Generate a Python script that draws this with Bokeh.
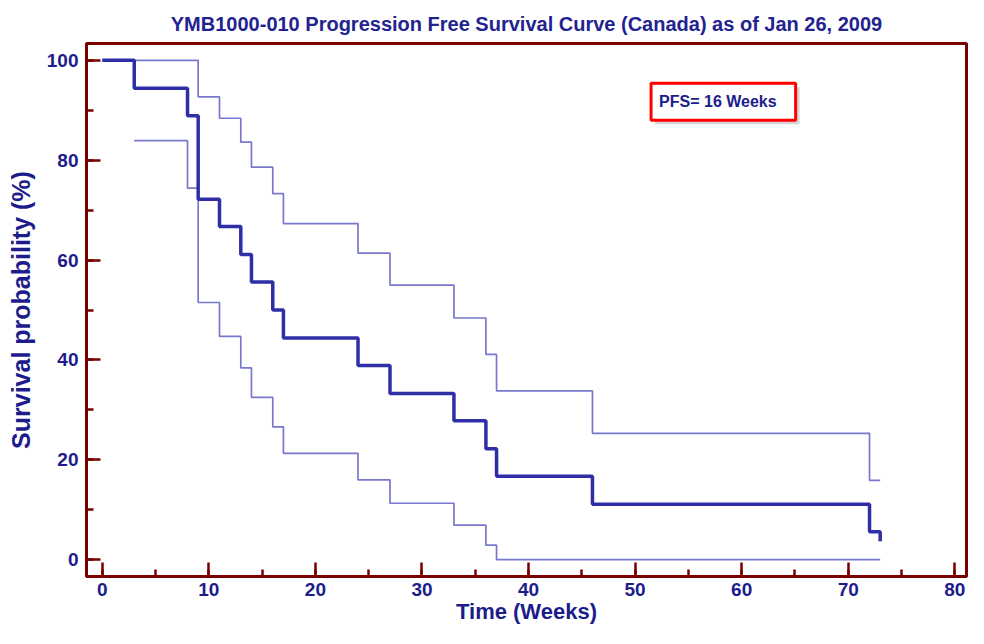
from bokeh.plotting import figure
from bokeh.models import Range1d, SingleIntervalTicker, Label, Title
from bokeh.embed import file_html
from bokeh.resources import INLINE

# Kaplan-Meier estimate (%), step times in weeks
km_time = [0, 3, 8, 9, 11, 13, 14, 16, 17, 24, 27, 33, 36, 37, 46, 72, 73]
km_surv = [100, 94.4, 88.9, 72.2, 66.7, 61.1, 55.6, 50.0, 44.4, 38.9, 33.3, 27.8, 22.2, 16.7, 11.1, 5.6, 3.7]

# Upper confidence limit
up_time = [0, 9, 11, 13, 14, 16, 17, 24, 27, 33, 36, 37, 46, 72, 73]
up_surv = [100, 92.7, 88.4, 83.6, 78.6, 73.3, 67.3, 61.4, 55.0, 48.4, 41.1, 33.8, 25.3, 15.9, 15.9]

# Lower confidence limit
lo_time = [3, 8, 9, 11, 13, 14, 16, 17, 24, 27, 33, 36, 37, 73]
lo_surv = [83.9, 74.4, 51.5, 44.7, 38.4, 32.5, 26.6, 21.3, 16.0, 11.3, 6.9, 2.9, 0.0, 0.0]

title_text = "YMB1000-010 Progression Free Survival Curve (Canada) as of Jan 26, 2009"
x_label = "Time (Weeks)"
y_label = "Survival probability (%)"
pfs_text = "PFS= 16 Weeks"

NAVY = "#1c1c8c"
MAROON = "#7a0000"
FONT = "Liberation Sans"

p = figure(width=968, height=628, output_backend="svg", toolbar_location=None,
           x_range=Range1d(-1.48, 81.1), y_range=Range1d(-3.37, 103.37),
           min_border_left=86, min_border_right=2, min_border_top=43, min_border_bottom=52)
p.title = Title(text=title_text, align="center", text_font=FONT, text_font_size="20px",
                text_font_style="bold", text_color="#23238f", standoff=18)
p.grid.visible = False
p.outline_line_color = MAROON
p.outline_line_width = 3
p.background_fill_color = "white"
p.border_fill_color = "white"

for ax, interval in ((p.xaxis[0], 10), (p.yaxis[0], 20)):
    ax.ticker = SingleIntervalTicker(interval=interval, num_minor_ticks=2)
    ax.axis_line_color = MAROON
    ax.axis_line_width = 3
    ax.major_tick_line_color = MAROON
    ax.minor_tick_line_color = MAROON
    ax.major_tick_line_width = 2.5
    ax.minor_tick_line_width = 2.5
    ax.major_tick_in = 14
    ax.major_tick_out = 0
    ax.minor_tick_in = 7
    ax.minor_tick_out = 0
    ax.major_label_text_font = FONT
    ax.major_label_text_font_size = "19px"
    ax.major_label_text_font_style = "bold"
    ax.major_label_text_color = NAVY
    ax.axis_label_text_font = FONT
    ax.axis_label_text_font_style = "bold"
    ax.axis_label_text_color = NAVY

p.xaxis.axis_label = x_label
p.yaxis.axis_label = y_label
p.xaxis.axis_label_text_font_size = "22px"
p.yaxis.axis_label_text_font_size = "25px"
p.xaxis.major_label_standoff = 6
p.xaxis.axis_label_standoff = 0
p.yaxis.major_label_standoff = 8
p.yaxis.axis_label_standoff = 9

p.step(up_time, up_surv, mode="after", line_color="#7878cc", line_width=1.7)
p.step(lo_time, lo_surv, mode="after", line_color="#7878cc", line_width=1.7)
p.step(km_time, km_surv, mode="after", line_color="#2e2ea6", line_width=3.5)

shadow = Label(x=51.5, y=95.4, anchor="top_left", text=pfs_text, text_font=FONT,
               text_font_size="16px", text_font_style="bold", text_color="rgba(0,0,0,0)",
               x_offset=4, y_offset=-4,
               padding=dict(left=8, right=19, top=10, bottom=10),
               background_fill_color="#888888", background_fill_alpha=0.35)
p.add_layout(shadow)
box = Label(x=51.5, y=95.4, anchor="top_left", text=pfs_text, text_font=FONT,
            text_font_size="16px", text_font_style="bold", text_color=NAVY,
            padding=dict(left=8, right=19, top=10, bottom=10),
            background_fill_color="white", border_line_color="#ff0000", border_line_width=3)
p.add_layout(box)

open("out.html", "w").write(file_html(p, INLINE))
